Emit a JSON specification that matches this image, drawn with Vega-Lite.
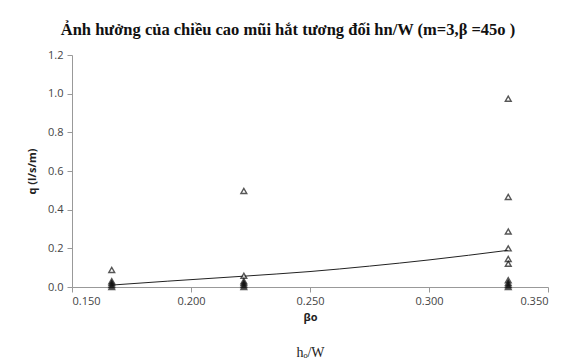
{
  "$schema": "https://vega.github.io/schema/vega-lite/v6.json",
  "width": 476,
  "height": 232,
  "autosize": {"type": "none"},
  "padding": {"left": 72, "top": 55, "right": 22, "bottom": 77},
  "background": "white",
  "config": {"view": {"stroke": null}, "axis": {"grid": false, "labelFont": "Open Sans", "labelFontSize": 11, "labelColor": "#444444", "labelOverlap": false, "domainColor": "#999999", "tickColor": "#999999", "titleFont": "Open Sans", "titleFontWeight": "bold", "titleFontSize": 11, "titleColor": "#222222"}},
  "title": {"text": "Ảnh hưởng của chiều cao mũi hắt tương đối  hn/W (m=3,β =45o )", "font": "Liberation Serif", "fontSize": 16.5, "fontWeight": "bold", "color": "#111111", "anchor": "middle", "dx": -22, "offset": 11},
  "datasets": {
    "pts": [
      {"x": 0.1667, "q": 0.088, "s": "open"},
      {"x": 0.1667, "q": 0.03, "s": "filled"},
      {"x": 0.1667, "q": 0.02, "s": "filled"},
      {"x": 0.1667, "q": 0.01, "s": "filled"},
      {"x": 0.1667, "q": 0.0, "s": "filled"},
      {"x": 0.2222, "q": 0.497, "s": "open"},
      {"x": 0.2222, "q": 0.058, "s": "open"},
      {"x": 0.2222, "q": 0.03, "s": "filled"},
      {"x": 0.2222, "q": 0.02, "s": "filled"},
      {"x": 0.2222, "q": 0.01, "s": "filled"},
      {"x": 0.2222, "q": 0.0, "s": "filled"},
      {"x": 0.3333, "q": 0.974, "s": "open"},
      {"x": 0.3333, "q": 0.466, "s": "open"},
      {"x": 0.3333, "q": 0.287, "s": "open"},
      {"x": 0.3333, "q": 0.2, "s": "open"},
      {"x": 0.3333, "q": 0.145, "s": "open"},
      {"x": 0.3333, "q": 0.12, "s": "open"},
      {"x": 0.3333, "q": 0.035, "s": "filled"},
      {"x": 0.3333, "q": 0.02, "s": "filled"},
      {"x": 0.3333, "q": 0.01, "s": "filled"},
      {"x": 0.3333, "q": 0.0, "s": "filled"}
    ],
    "trend": [
      {"x": 0.1667, "q": 0.01},
      {"x": 0.19, "q": 0.03},
      {"x": 0.2222, "q": 0.056},
      {"x": 0.25, "q": 0.08},
      {"x": 0.275, "q": 0.108},
      {"x": 0.3, "q": 0.14},
      {"x": 0.3333, "q": 0.19}
    ]
  },
  "layer": [
    {
      "data": {"name": "trend"},
      "mark": {"type": "line", "color": "#222222", "strokeWidth": 1, "interpolate": "monotone"},
      "encoding": {
        "x": {"field": "x", "type": "quantitative", "scale": {"domain": [0.15, 0.35], "nice": false, "zero": false}, "axis": {"orient": "bottom", "values": [0.15, 0.2, 0.25, 0.3, 0.35], "format": ".3f", "title": "βo", "tickSize": 5, "labelPadding": 3, "titlePadding": 5}},
        "y": {"field": "q", "type": "quantitative", "scale": {"domain": [0, 1.2], "nice": false}, "axis": {"values": [0, 0.2, 0.4, 0.6, 0.8, 1.0, 1.2], "format": ".1f", "title": "q (l/s/m)", "tickSize": 5, "labelPadding": 4, "titlePadding": 10, "labelOverlap": false, "labelSeparation": 0, "labelBound": false, "labelFlush": false}}
      }
    },
    {
      "data": {"name": "pts"},
      "mark": {"type": "point", "shape": "triangle-up", "size": 34, "strokeWidth": 1.4},
      "encoding": {
        "x": {"field": "x", "type": "quantitative", "axis": {"orient": "bottom", "labels": false, "ticks": false, "domain": false, "title": "hₒ/W", "titleFont": "Liberation Serif", "titleFontWeight": "normal", "titleFontSize": 14, "titleColor": "#222222", "offset": 54}},
        "y": {"field": "q", "type": "quantitative", "axis": {"values": [0, 0.2, 0.4, 0.6, 0.8, 1.0, 1.2], "format": ".1f", "title": "q (l/s/m)", "tickSize": 5, "labelPadding": 4, "titlePadding": 10, "labelOverlap": false, "labelSeparation": 0, "labelBound": false, "labelFlush": false}},
        "filled": {"value": false},
        "stroke": {"value": "#111111"},
        "fill": {"field": "s", "type": "nominal", "scale": {"domain": ["open", "filled"], "range": ["white", "#111111"]}, "legend": null},
        "fillOpacity": {"value": 1}
      }
    }
  ],
  "resolve": {"axis": {"x": "independent"}}
}
